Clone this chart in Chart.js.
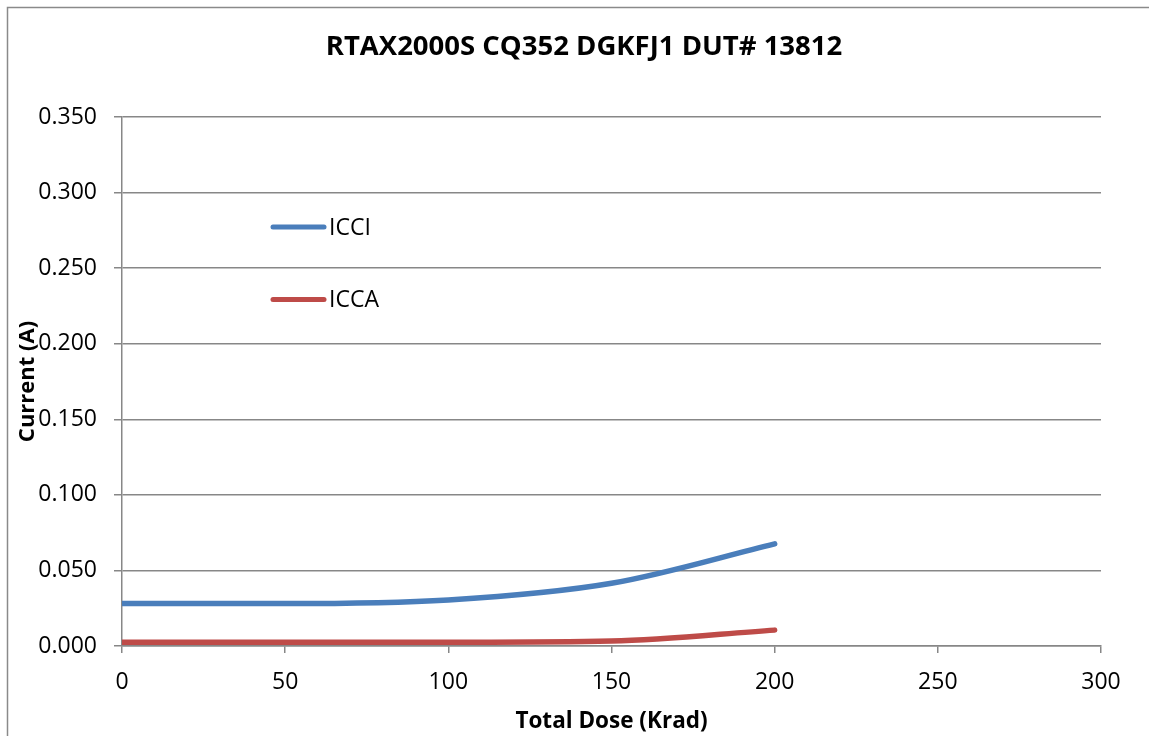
<!DOCTYPE html>
<html><head><meta charset="utf-8">
<script src="https://cdn.jsdelivr.net/npm/chart.js@4/dist/chart.umd.min.js"></script>
<style>html,body{margin:0;padding:0;background:#fff;overflow:hidden}#wrap{width:1149px;height:736px;position:relative}</style>
</head><body><div id="wrap"><canvas id="c" width="1149" height="736"></canvas></div>
<script>
const titleText = 'RTAX2000S CQ352 DGKFJ1 DUT# 13812';
const xTitle = 'Total Dose (Krad)';
const yTitle = 'Current (A)';
const doses = [0, 50, 100, 150, 200];
const icci = [0.0281, 0.0281, 0.0305, 0.0415, 0.0676];
const icca = [0.0024, 0.0024, 0.0025, 0.0033, 0.0105];
const seriesNames = ['ICCI', 'ICCA'];
const seriesColors = ['#4a7ebb', '#be4b48'];
const xTicks = [0, 50, 100, 150, 200, 250, 300];
const yTicks = [0, 0.05, 0.10, 0.15, 0.20, 0.25, 0.30, 0.35];

const FONT = '"Open Sans", "Liberation Sans", sans-serif';
const GRID = '#878787';

const frame = {
  id: 'frame',
  beforeDraw(chart) {
    const ctx = chart.ctx;
    ctx.save();
    ctx.fillStyle = '#fff';
    ctx.fillRect(0, 0, chart.width, chart.height);
    ctx.strokeStyle = '#8a8a8a';
    ctx.lineWidth = 1.5;
    ctx.beginPath();
    ctx.moveTo(7.5, chart.height);
    ctx.lineTo(7.5, 7.5);
    ctx.lineTo(chart.width, 7.5);
    ctx.stroke();
    ctx.restore();
  }
};

const innerLegend = {
  id: 'innerLegend',
  afterDatasetsDraw(chart) {
    const ctx = chart.ctx;
    const rows = [227, 299.5];
    ctx.save();
    chart.data.datasets.forEach((ds, i) => {
      const y = rows[i];
      ctx.strokeStyle = ds.borderColor;
      ctx.lineWidth = 5;
      ctx.lineCap = 'round';
      ctx.beginPath();
      ctx.moveTo(273, y);
      ctx.lineTo(324, y);
      ctx.stroke();
      ctx.fillStyle = '#000';
      ctx.font = '23px ' + FONT;
      ctx.textBaseline = 'middle';
      ctx.textAlign = 'left';
      ctx.fillText(ds.label, 329, y + 1);
    });
    ctx.restore();
  }
};

new Chart(document.getElementById('c'), {
  type: 'line',
  data: {
    datasets: [
      { label: seriesNames[0], data: doses.map((d, i) => ({x: d, y: icci[i]})), borderColor: seriesColors[0], backgroundColor: seriesColors[0] },
      { label: seriesNames[1], data: doses.map((d, i) => ({x: d, y: icca[i]})), borderColor: seriesColors[1], backgroundColor: seriesColors[1] }
    ]
  },
  options: {
    responsive: false,
    animation: false,
    layout: { padding: { left: 19, right: 0, top: 0, bottom: 0 } },
    elements: {
      line: { borderWidth: 5.5, cubicInterpolationMode: 'monotone', borderCapStyle: 'round', borderJoinStyle: 'round' },
      point: { radius: 0, hoverRadius: 0 }
    },
    plugins: {
      legend: { display: false },
      tooltip: { enabled: false },
      title: {
        display: true, text: titleText, color: '#000',
        font: { family: FONT, size: 27.5, weight: 'bold' },
        padding: { top: 30.5, bottom: 53.5 }
      }
    },
    scales: {
      x: {
        type: 'linear', min: 0, max: 300,
        afterBuildTicks(s) { s.ticks = xTicks.map(v => ({value: v})); },
        afterFit(s) { s.height = 90; s.paddingLeft = 0; s.paddingRight = 0; },
        grid: { drawOnChartArea: false, drawTicks: true, tickLength: 7, color: GRID, lineWidth: 1.5 },
        border: { display: true, color: GRID, width: 1.5 },
        ticks: { color: '#000', padding: 16, maxRotation: 0, font: { family: FONT, size: 23 }, callback: v => String(v) },
        title: { display: true, text: xTitle, color: '#000', font: { family: FONT, size: 22.5, weight: 'bold' }, padding: { top: 0, bottom: 1 } }
      },
      y: {
        type: 'linear', min: 0, max: 0.35,
        afterBuildTicks(s) { s.ticks = yTicks.map(v => ({value: v})); },
        afterFit(s) { s.width = 103; s.paddingTop = 0; s.paddingBottom = 0; },
        grid: { drawTicks: true, tickLength: 8, color: GRID, lineWidth: 1.5 },
        border: { display: true, color: GRID, width: 1.5 },
        ticks: { color: '#000', padding: 17, font: { family: FONT, size: 23 }, callback: v => Number(v).toFixed(3) },
        title: { display: true, text: yTitle, color: '#000', font: { family: FONT, size: 22, weight: 'bold', lineHeight: 0.8 }, padding: { top: 0, bottom: 0 } }
      },
      rightSpace: {
        type: 'linear', position: 'right', display: true,
        afterFit(s) { s.width = 48; },
        grid: { display: false, drawTicks: false },
        border: { display: false },
        ticks: { display: false },
        title: { display: false }
      }
    }
  },
  plugins: [frame, innerLegend]
});
</script>
</body></html>
